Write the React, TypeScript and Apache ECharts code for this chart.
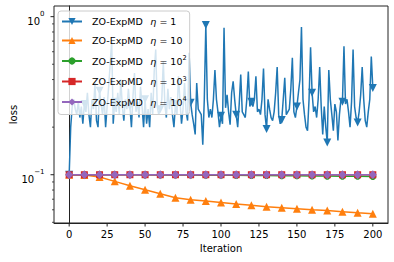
import React, { useEffect, useRef } from "react";
import * as echarts from "echarts";

const FONT = "DejaVu Sans";

const markerIters = [0, 10, 20, 30, 40, 50, 60, 70, 80, 90, 100, 110, 120, 130, 140, 150, 160, 170, 180, 190, 200];

const blueLoss = [
  0.1, 0.2, 0.27, 0.3, 0.26, 0.24, 0.29, 0.23, 0.27, 0.21,
  0.28, 0.25, 0.33, 0.24, 0.2, 0.3, 0.26, 0.38, 0.22, 0.2,
  0.34, 0.28, 0.24, 0.31, 0.2, 0.27, 0.36, 0.5, 0.7, 0.21,
  0.29, 0.25, 0.33, 0.24, 0.4, 0.27, 0.22, 0.3, 0.26, 0.35,
  0.27, 0.2, 0.31, 0.44, 0.25, 0.29, 0.23, 0.36, 0.27, 0.2,
  0.3, 0.21, 0.26, 0.2, 0.33, 0.24, 0.45, 0.62, 0.27, 0.24,
  0.26, 0.3, 0.52, 0.28, 0.23, 0.35, 0.26, 0.31, 0.24, 0.2,
  0.28, 0.24, 0.42, 0.29, 0.21, 0.26, 0.38, 0.25, 0.22, 0.59,
  0.285, 0.24, 0.21, 0.18, 0.38, 0.26, 0.25, 0.24, 0.155, 0.3,
  0.886, 0.3, 0.23, 0.26, 0.23, 0.3, 0.46, 0.3, 0.25, 0.2,
  0.236, 0.21, 0.85, 0.265, 0.32, 0.25, 0.207, 0.33, 0.39, 0.3,
  0.24, 0.2, 0.28, 0.43, 0.25, 0.24, 0.23, 0.3, 0.45, 0.27,
  0.29, 0.27, 0.3, 0.42, 0.25, 0.26, 0.24, 0.3, 0.47, 0.24,
  0.195, 0.3, 0.26, 0.23, 0.22, 0.25, 0.33, 0.48, 0.24, 0.21,
  0.222, 0.3, 0.41, 0.24, 0.25, 0.26, 0.35, 0.55, 0.25, 0.23,
  0.27, 0.33, 0.4, 0.86, 0.3, 0.24, 0.2, 0.19, 0.3, 0.64,
  0.33, 0.25, 0.27, 0.23, 0.3, 0.48, 0.27, 0.18, 0.27, 0.2,
  0.16, 0.46, 0.3, 0.24, 0.19, 0.28, 0.25, 0.165, 0.24, 0.3,
  0.29, 0.65, 0.28, 0.3, 0.25, 0.2, 0.29, 0.62, 0.27, 0.23,
  0.214, 0.25, 0.32, 0.48, 0.3, 0.22, 0.2, 0.25, 0.3, 0.56,
  0.354,
];

const orangeLoss = [0.1, 0.0995, 0.0967, 0.0908, 0.0852, 0.0804, 0.0759, 0.0716, 0.0695, 0.0682, 0.0668, 0.0652, 0.0642, 0.0628, 0.0619, 0.061, 0.0601, 0.0593, 0.0584, 0.0575, 0.0567];
const greenLoss = [0.1, 0.1, 0.1, 0.1, 0.1, 0.0998, 0.0997, 0.0996, 0.0995, 0.0994, 0.0993, 0.0991, 0.099, 0.0988, 0.0986, 0.0984, 0.0982, 0.098, 0.0978, 0.0977, 0.0976];
const redLoss = [0.1, 0.1, 0.1, 0.1, 0.1, 0.1, 0.1, 0.1, 0.1, 0.1, 0.1, 0.1, 0.1, 0.1, 0.1, 0.1, 0.1, 0.1, 0.1, 0.1, 0.1];
const purpleLoss = [0.1, 0.1, 0.1, 0.1, 0.1, 0.1, 0.1, 0.1, 0.1, 0.1, 0.1, 0.1, 0.1, 0.1, 0.1, 0.1, 0.1, 0.1, 0.1, 0.1, 0.1];

const seriesNames = ["ZO-ExpMD η = 1", "ZO-ExpMD η = 10", "ZO-ExpMD η = 10^2", "ZO-ExpMD η = 10^3", "ZO-ExpMD η = 10^4"];
const legendBase = ["1", "10", "10", "10", "10"];
const legendSup = ["", "", "2", "3", "4"];

const xTickValues = [0, 25, 50, 75, 100, 125, 150, 175, 200];
const xTickLabels = ["0", "25", "50", "75", "100", "125", "150", "175", "200"];
const yMajorValues = [0.1, 1];
const yMajorBase = ["10", "10"];
const yMajorSup = ["\u22121", "0"];
const yMinorValues = [0.05, 0.06, 0.07, 0.08, 0.09, 0.2, 0.3, 0.4, 0.5, 0.6, 0.7, 0.8, 0.9];

const X_MIN = -10;
const X_MAX = 210;
const Y_MIN = 0.0495;
const Y_MAX = 1.168;

const BLUE = "#1f77b4";
const ORANGE = "#ff7f0e";
const GREEN = "#2ca02c";
const RED = "#d62728";
const PURPLE = "#9467bd";

const LF = 9.5;

const legendRich = {
  h: { fontSize: LF, fontFamily: FONT, color: "#000", padding: [0, 0, 0, 5] },
  n: { fontSize: LF, fontFamily: FONT, color: "#000" },
  e: { fontSize: LF, fontFamily: FONT, color: "#000", fontStyle: "italic", padding: [0, 0, 0, 4.5] },
  s: { fontSize: 6.6, fontFamily: FONT, color: "#000", padding: [0, 0, 6, 0] },
};

const tickRich = {
  n: { fontSize: 10, fontFamily: FONT, color: "#000", lineHeight: 16, verticalAlign: "bottom" },
  s: { fontSize: 7, fontFamily: FONT, color: "#000", lineHeight: 10, verticalAlign: "top" },
};

type Tick = { kind: string; x: number; y: number; label: string; sup: string };

export default function App() {
  const ref = useRef<HTMLDivElement>(null);

  useEffect(() => {
    if (!ref.current) return;
    const chart = echarts.init(ref.current, null, { renderer: "svg" });

    const ticks: Tick[] = [
      ...xTickValues.map((v, k) => ({ kind: "x", x: v, y: Y_MIN, label: xTickLabels[k], sup: "" })),
      ...yMajorValues.map((v, k) => ({ kind: "y", x: X_MIN, y: v, label: yMajorBase[k], sup: yMajorSup[k] })),
      ...yMinorValues.map((v) => ({ kind: "m", x: X_MIN, y: v, label: "", sup: "" })),
    ];

    const legendText: Record<string, string> = {};
    seriesNames.forEach((n, k) => {
      legendText[n] =
        "{h|ZO-ExpMD }{e|\u03b7}{n| = " + legendBase[k] + "}" + (legendSup[k] ? "{s|" + legendSup[k] + "}" : "");
    });

    const markerSeries = (name: string, vals: number[], color: string, symbol: string, size: any) => ({
      name,
      type: "line",
      data: markerIters.map((it, k) => [it, vals[k]]),
      symbol,
      symbolSize: size,
      showSymbol: true,
      showAllSymbol: true,
      lineStyle: { color, width: 1.5 },
      itemStyle: { color },
      emphasis: { disabled: true },
    });

    const option: any = {
      animation: false,
      textStyle: { fontFamily: FONT },
      grid: {
        left: 53,
        right: 6,
        top: 6,
        bottom: 39,
        show: true,
        borderColor: "#222",
        borderWidth: 1,
        backgroundColor: "transparent",
      },
      legend: {
        data: seriesNames,
        orient: "vertical",
        left: 58,
        top: 11,
        padding: [5.5, 3, 7.5, 3],
        itemWidth: 20,
        itemHeight: 9,
        itemGap: 9,
        backgroundColor: "rgba(255,255,255,0.8)",
        borderColor: "#cccccc",
        borderWidth: 1,
        borderRadius: 3,
        formatter: (name: string) => legendText[name],
        textStyle: { rich: legendRich, fontSize: LF },
        selectedMode: false,
      },
      xAxis: {
        type: "value",
        min: X_MIN,
        max: X_MAX,
        name: "Iteration",
        nameLocation: "middle",
        nameGap: 20,
        nameTextStyle: { fontSize: 10, color: "#000", fontFamily: FONT, verticalAlign: "top" },
        axisLine: { show: true, lineStyle: { color: "#222", width: 1 } },
        axisTick: { show: false },
        axisLabel: { show: false },
        splitLine: { show: false },
      },
      yAxis: {
        type: "log",
        logBase: 10,
        min: Y_MIN,
        max: Y_MAX,
        name: "loss",
        nameLocation: "middle",
        nameGap: 36,
        nameTextStyle: { fontSize: 10, color: "#000", fontFamily: FONT },
        axisLine: { show: true, lineStyle: { color: "#222", width: 1 } },
        axisTick: { show: false },
        axisLabel: { show: false },
        splitLine: { show: false },
        minorTick: { show: false },
      },
      series: [
        {
          name: seriesNames[0],
          type: "line",
          data: blueLoss.map((v, i) => ({ value: [i, v], symbol: i % 10 === 0 ? "triangle" : "none" })),
          symbol: "triangle",
          symbolRotate: 180,
          symbolSize: 8,
          showSymbol: true,
          showAllSymbol: true,
          lineStyle: { color: BLUE, width: 1.5 },
          itemStyle: { color: BLUE },
          emphasis: { disabled: true },
        },
        markerSeries(seriesNames[1], orangeLoss, ORANGE, "triangle", 8),
        markerSeries(seriesNames[2], greenLoss, GREEN, "circle", 7),
        markerSeries(seriesNames[3], redLoss, RED, "rect", 7),
        markerSeries(seriesNames[4], purpleLoss, PURPLE, "diamond", [8, 9]),
        {
          name: "ticks",
          type: "custom",
          coordinateSystem: "cartesian2d",
          clip: false,
          silent: true,
          z: 10,
          data: ticks.map((t) => [t.x, t.y]),
          renderItem: (params: any, api: any) => {
            const t = ticks[params.dataIndex];
            const p = api.coord([t.x, t.y]);
            const stroke = { stroke: "#222", lineWidth: 1 };
            if (t.kind === "x") {
              return {
                type: "group",
                children: [
                  { type: "line", shape: { x1: p[0], y1: p[1], x2: p[0], y2: p[1] + 3.5 }, style: stroke },
                  {
                    type: "text",
                    x: p[0],
                    y: p[1] + 6,
                    style: { text: t.label, align: "center", verticalAlign: "top", fontSize: 10, fontFamily: FONT, fill: "#000" },
                  },
                ],
              };
            }
            if (t.kind === "y") {
              return {
                type: "group",
                children: [
                  { type: "line", shape: { x1: p[0] - 3.5, y1: p[1], x2: p[0], y2: p[1] }, style: stroke },
                  {
                    type: "text",
                    x: p[0] - 9.5,
                    y: p[1] + 2,
                    style: {
                      text: "{n|" + t.label + "}{s|" + t.sup + "}",
                      rich: tickRich,
                      align: "right",
                      verticalAlign: "middle",
                    },
                  },
                ],
              };
            }
            return { type: "line", shape: { x1: p[0] - 2, y1: p[1], x2: p[0], y2: p[1] }, style: { stroke: "#222", lineWidth: 0.8 } };
          },
        },
      ],
    };

    chart.setOption(option);
    return () => chart.dispose();
  }, []);

  return <div ref={ref} style={{ position: "absolute", left: 0, top: 0, width: 394, height: 262 }} />;
}
